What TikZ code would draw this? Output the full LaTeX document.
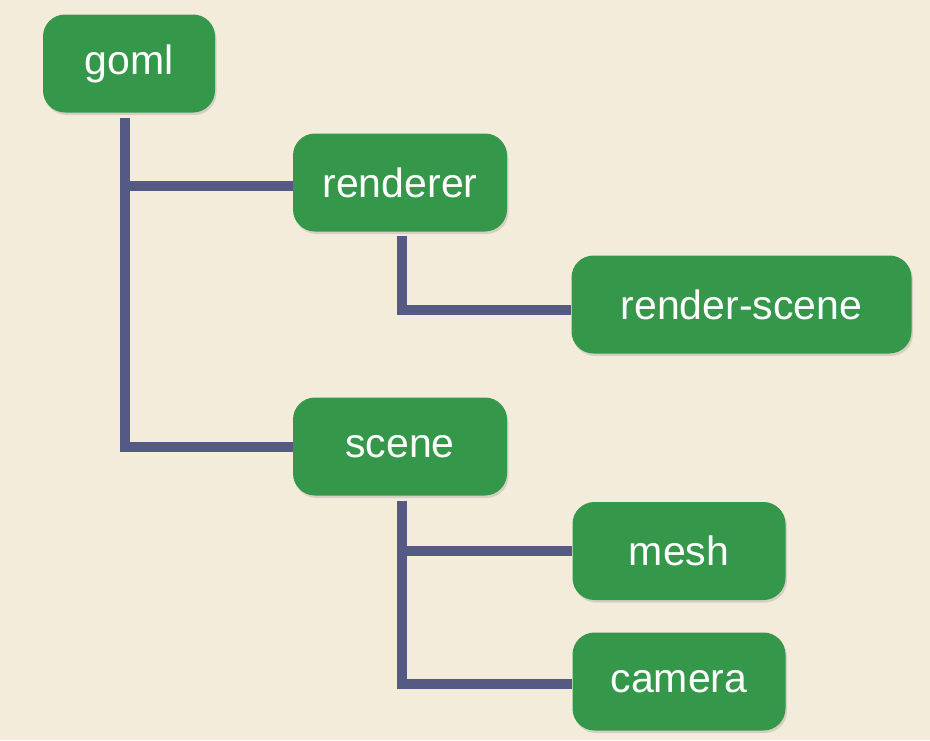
\documentclass[tikz,border=0pt]{standalone}
\usepackage{fontspec}
\setmainfont{Liberation Sans}
\usetikzlibrary{shadows}
\definecolor{paper}{HTML}{F4ECDB}
\definecolor{leaf}{HTML}{35974A}
\definecolor{chalk}{HTML}{555A84}
\begin{document}
\begin{tikzpicture}[x=1pt, y=-1pt,
  box/.style={rectangle, rounded corners=22pt, fill=leaf, text=white, minimum height=98pt,
    font=\fontsize{41}{48}\selectfont,
    drop shadow={shadow xshift=1.5pt, shadow yshift=-2.5pt, opacity=0.25}},
  wire/.style={chalk, line width=10pt}]

% Paper
\fill[paper] (0,0) rectangle (930,740);

% Tree nodes
\node[box, minimum width=172pt] (goml) at (129,63.5) {goml};
\node[box, minimum width=214pt] (renderer) at (400,182.5) {renderer};
\node[box, minimum width=340pt] (rscene) at (741.5,304.5) {render-scene};
\node[box, minimum width=214pt] (scene) at (400,446.5) {scene};
\node[box, minimum width=213pt] (mesh) at (679,551) {mesh};
\node[box, minimum width=213pt] (camera) at (679,681.5) {camera};

% Branches of goml
\draw[wire] ([xshift=-4pt, yshift=-5pt]goml.south) coordinate (gomltrunk) |- (scene.west);
\draw[wire] (gomltrunk |- renderer.west) ++(0,3) -- ([yshift=-3pt]renderer.west);

% Branch of renderer
\draw[wire] ([xshift=2pt, yshift=-4pt]renderer.south) |- ([yshift=-5pt]rscene.west);

% Branches of scene
\draw[wire] ([xshift=2pt, yshift=-5pt]scene.south) coordinate (scenetrunk) |- ([yshift=-2pt]camera.west);
\draw[wire] (scenetrunk |- mesh.west) -- (mesh.west);

\end{tikzpicture}
\end{document}
